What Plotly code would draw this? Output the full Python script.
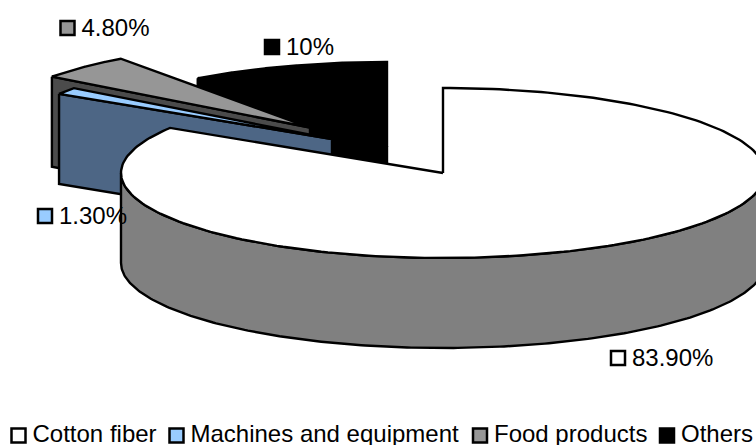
import numpy as np
import plotly.graph_objects as go

# Shipment shares by product group
categories = ["Cotton fiber", "Machines and equipment", "Food products", "Others"]
shares = [83.9, 1.3, 4.8, 10.0]
value_labels = ["83.90%", "1.30%", "4.80%", "10%"]

# Colours per slice: top surface and shaded cut face
top_colors = ["#FFFFFF", "#99CCFF", "#969696", "#000000"]
face_colors = ["#808080", "#4D6685", "#4B4B4B", "#000000"]

# Projection of the tilted pie, in page pixels
CENTER = (443.0, 173.0)
RX, RY = 322.0, 85.0
DEPTH = 90.0
# Displacement of each exploded slice
EXPLODE = [(0, 0), (-111, -34), (-133, -45.5), (-56, -26)]

# Where the value labels and the key sit
LABEL_POS = [(618, 358), (45, 216), (67.5, 28), (272, 47)]
KEY_POS = [(18.5, 435.5), (176.5, 435.5), (480, 435.5), (667, 435.5)]
TEXT_GAP = 14.0

edges = np.concatenate([[0], np.cumsum(shares)]) / sum(shares) * 2 * np.pi


def rim(a0, a1, off, drop=0.0, n=240):
    t = np.linspace(a0, a1, n)
    return (CENTER[0] + off[0] + RX * np.sin(t),
            CENTER[1] + off[1] + drop - RY * np.cos(t))


def polygon(fig, x, y, fill):
    fig.add_trace(go.Scatter(
        x=list(x) + [x[0]], y=list(y) + [y[0]], mode="lines", fill="toself",
        fillcolor=fill, line=dict(color="#000000", width=2.4),
        hoverinfo="skip", showlegend=False))


def cut_face(fig, angle, off, fill):
    px = CENTER[0] + off[0] + RX * np.sin(angle)
    py = CENTER[1] + off[1] - RY * np.cos(angle)
    ax, ay = CENTER[0] + off[0], CENTER[1] + off[1]
    polygon(fig, [px, ax, ax, px], [py, ay, ay + DEPTH, py + DEPTH], fill)


def top_surface(fig, i):
    x, y = rim(edges[i], edges[i + 1], EXPLODE[i])
    ax, ay = CENTER[0] + EXPLODE[i][0], CENTER[1] + EXPLODE[i][1]
    polygon(fig, [ax, *x], [ay, *y], top_colors[i])


def keyed_text(fig, positions, texts, text_drop):
    # A colour square with its text to the right
    fig.add_trace(go.Scatter(
        x=[p[0] for p in positions], y=[p[1] for p in positions],
        mode="markers",
        marker=dict(symbol="square", size=14, color=top_colors,
                    line=dict(color="#000000", width=2.5)),
        hoverinfo="skip", showlegend=False, cliponaxis=False))
    fig.add_trace(go.Scatter(
        x=[p[0] + TEXT_GAP for p in positions],
        y=[p[1] + text_drop for p in positions],
        mode="text", text=texts, textposition="middle right",
        textfont=dict(family="Liberation Sans", size=24, color="#000000"),
        hoverinfo="skip", showlegend=False, cliponaxis=False))


fig = go.Figure()

# Painted back to front: Others, Food products, Machines, then Cotton fiber
for i in (3, 2, 1):
    cut_face(fig, edges[i], EXPLODE[i], face_colors[i])
    top_surface(fig, i)

# Outer wall of the cotton slice, front half of the ellipse
xf, yf = rim(np.pi / 2, 3 * np.pi / 2, EXPLODE[0])
xb, yb = rim(3 * np.pi / 2, np.pi / 2, EXPLODE[0], drop=DEPTH)
polygon(fig, [*xf, *xb], [*yf, *yb], face_colors[0])
top_surface(fig, 0)

keyed_text(fig, LABEL_POS, value_labels, 1.5)
keyed_text(fig, KEY_POS, categories, 0.0)

fig.update_layout(
    width=756, height=445, margin=dict(l=0, r=0, t=0, b=0),
    paper_bgcolor="#FFFFFF", plot_bgcolor="#FFFFFF",
    xaxis=dict(range=[0, 756], visible=False, fixedrange=True),
    yaxis=dict(range=[445, 0], visible=False, fixedrange=True),
)

fig.write_html("out.html", config={"displayModeBar": False})
